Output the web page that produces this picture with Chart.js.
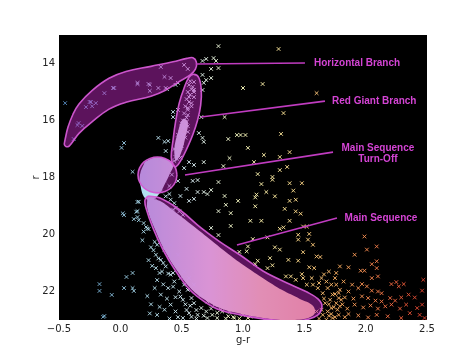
<!DOCTYPE html>
<html><head><meta charset="utf-8">
<script src="https://cdn.jsdelivr.net/npm/chart.js@4"></script>
<style>html,body{margin:0;padding:0;background:#fff;}#wrap{width:474px;height:355px;}</style>
</head><body><div id="wrap"><canvas id="c" width="474" height="355"></canvas></div>
<script>
const xTicks = [-0.5, 0, 0.5, 1, 1.5, 2, 2.5];
const yTicks = [14, 16, 18, 20, 22];

const horizontalBranchStars = [[-0.45,15.39],[0.14,14.72],[-0.05,14.86],[-0.13,15.04],[-0.20,15.39],[-0.24,15.35],[-0.28,15.53],[-0.34,16.09],[-0.31,16.19],[-0.38,16.65],[0.23,14.72],[0.33,14.12],[0.36,14.47],[0.41,14.51],[0.31,14.86],[0.37,14.86],[0.45,14.75],[0.47,14.68],[0.14,14.68],[0.24,14.75],[0.24,14.96],[0.38,14.90],[-0.06,14.86],[-0.25,15.35],[-0.23,15.50],[-0.35,16.16],[0.55,14.19],[0.52,14.05]];
const redGiantStars = [[0.60,14.65],[0.59,14.82],[0.60,14.93],[0.56,15.18],[0.60,15.18],[0.58,15.39],[0.55,15.56],[0.55,15.81],[0.54,16.05],[0.52,16.23],[0.55,16.40],[0.51,16.51],[0.48,16.75],[0.49,16.96],[0.57,14.62],[0.56,14.75],[0.58,14.90],[0.55,15.00],[0.57,15.10],[0.54,15.25],[0.56,15.35],[0.53,15.50],[0.55,15.62],[0.52,15.75],[0.54,15.90],[0.51,16.00],[0.53,16.12],[0.50,16.20],[0.52,16.30],[0.49,16.40],[0.51,16.50],[0.48,16.58],[0.50,16.68],[0.47,16.78],[0.49,16.88],[0.46,16.95],[0.48,17.05],[0.46,17.12],[0.47,17.20],[0.45,17.28],[0.46,17.35],[0.44,17.42],[0.50,16.90],[0.53,16.60],[0.55,16.20],[0.58,15.50],[0.60,15.00],[0.50,16.10],[0.47,16.50],[0.44,17.00],[0.49,17.30]];
const giantFieldStars = [[0.43,15.70],[0.47,15.63],[0.43,15.88],[0.31,16.61],[0.36,16.75],[0.39,16.72],[0.37,17.07],[0.03,16.79],[0.01,16.96],[0.10,17.80],[0.80,13.39],[0.67,13.91],[0.70,13.84],[0.76,13.81],[0.78,13.91],[0.74,14.19],[0.80,14.16],[0.67,14.40],[0.70,14.58],[0.74,14.51],[0.68,14.68],[0.67,14.93],[0.66,15.88],[0.85,15.88],[0.64,16.44],[0.67,16.61],[0.68,16.75],[0.88,16.65],[0.95,16.51],[0.98,16.51],[0.89,17.32],[0.56,17.46],[0.60,17.56],[0.68,17.46],[0.84,17.60],[0.52,17.67],[1.29,13.49],[1.00,14.86],[1.16,14.72],[1.60,15.04],[1.33,15.74],[1.02,16.51],[1.31,16.47],[1.04,16.96],[1.17,17.21],[1.30,17.28],[1.38,17.11],[1.09,17.46],[1.12,17.88],[1.30,17.74],[1.36,17.63],[1.24,17.98]];
const turnoffStars = [[0.38,17.60],[0.42,17.90],[0.36,18.10],[0.40,18.30],[0.32,17.40],[0.47,18.12],[0.59,18.12],[0.63,18.09],[0.80,18.16],[0.54,18.40],[0.63,18.51],[0.68,18.51],[0.74,18.44],[0.49,18.65],[0.56,18.82],[0.60,18.75],[0.71,18.58],[0.85,18.65],[0.96,18.82],[0.80,19.18],[0.90,19.25],[0.86,18.96],[0.74,19.77],[0.80,20.02],[0.90,19.70],[0.97,20.61]];
const blueStars = [[0.14,18.86],[0.03,19.32],[0.14,19.18],[0.11,19.46],[0.14,19.39],[0.19,19.60],[0.21,19.74],[0.23,19.81],[0.10,21.35],[0.05,21.49],[-0.17,21.74],[-0.17,21.98],[-0.07,22.12],[0.03,21.88],[0.10,21.88],[0.11,21.98],[0.22,22.16],[-0.13,22.86],[0.02,19.26],[-0.14,22.89],[0.30,20.36],[0.36,20.53],[0.29,20.71],[0.33,20.89],[0.40,20.71],[0.37,21.12],[0.32,21.35],[0.41,21.41],[0.47,21.06],[0.49,21.53],[0.44,21.65],[0.52,21.76],[0.39,21.88],[0.48,22.00],[0.55,21.94],[0.58,22.23],[0.51,22.29],[0.60,22.41],[0.41,22.46],[0.66,22.58],[0.70,22.70],[0.75,22.82],[0.63,22.82],[0.56,22.76],[0.45,22.70],[0.36,22.64],[0.30,22.82],[0.51,22.93],[0.71,22.93],[0.79,22.93],[0.83,22.70],[0.88,22.87],[0.93,22.93],[0.28,21.88],[0.33,22.11],[0.29,21.18],[0.41,20.36],[0.47,20.71],[0.52,21.30],[0.56,21.53],[0.60,21.76],[0.66,22.11],[0.71,22.35],[0.77,22.46],[0.82,22.64],[0.29,18.55],[0.33,18.49],[0.37,18.66],[0.40,18.58],[0.41,18.78],[0.44,18.90],[0.43,19.13],[0.45,19.07],[0.28,18.72],[0.48,19.19],[0.51,19.31],[0.15,18.85],[0.13,19.20],[0.15,19.50],[0.22,19.79],[0.28,20.26],[0.27,20.55],[0.31,20.84],[0.35,21.00],[0.39,21.37],[0.30,21.60],[0.43,21.83],[0.49,22.18],[0.32,22.54],[0.24,22.77],[0.54,22.65],[0.58,22.89],[0.62,22.95],[0.68,22.85],[0.74,22.60],[0.79,22.75],[0.86,22.95],[0.57,22.50],[0.47,22.90],[0.40,22.95],[0.53,22.45],[0.45,22.20],[0.38,22.25],[0.25,22.45],[0.62,22.65],[0.89,22.72],[0.35,21.75],[0.43,21.35],[0.26,21.10],[0.34,21.30],[0.23,20.90],[0.25,20.45],[0.18,20.20],[0.19,19.90]];
const yellowStars = [[1.15,18.23],[1.24,18.08],[1.38,18.20],[1.48,18.20],[1.11,18.60],[1.10,18.70],[1.19,18.51],[1.26,18.66],[1.41,18.46],[1.38,18.82],[1.43,18.78],[1.10,19.01],[1.34,19.10],[1.43,19.19],[1.47,19.27],[1.06,19.52],[1.15,19.52],[1.38,19.52],[1.33,19.75],[1.30,19.80],[1.49,19.72],[1.52,19.72],[1.45,20.01],[1.54,19.98],[1.45,20.18],[1.53,20.18],[1.20,20.10],[1.08,20.16],[1.57,20.36],[1.26,20.45],[1.30,20.53],[1.04,20.42],[1.03,20.59],[1.49,20.62],[1.60,20.77],[1.63,20.79],[1.22,20.83],[1.37,20.89],[1.45,20.92],[1.12,20.92],[1.10,21.04],[1.24,21.08],[1.20,21.18],[1.54,21.15],[1.58,21.18],[1.35,21.47],[1.39,21.47],[1.48,21.39],[1.49,21.53],[1.56,21.53],[1.43,21.59],[1.52,21.76],[1.57,21.76],[1.00,22.82],[1.04,22.93],[1.06,22.88],[0.92,22.90],[0.97,22.95]];
const redStars = [[1.64,21.53],[1.68,21.65],[1.61,21.88],[1.65,22.06],[1.69,21.88],[1.72,21.76],[1.73,22.11],[1.71,22.29],[1.67,22.41],[1.64,22.64],[1.69,22.70],[1.72,22.58],[1.73,22.93],[1.68,22.99],[1.65,22.82],[1.72,22.79],[1.99,20.07],[2.01,20.53],[2.09,20.42],[1.91,20.71],[1.79,21.12],[1.86,21.15],[1.96,21.27],[1.99,21.27],[2.05,21.04],[2.09,20.94],[2.09,21.18],[2.10,21.47],[2.05,21.53],[1.82,21.65],[1.89,21.76],[1.97,21.74],[2.01,21.82],[1.94,21.88],[1.86,22.00],[1.79,21.94],[2.05,21.97],[2.10,22.00],[2.13,22.06],[2.21,21.74],[2.25,21.67],[2.27,21.82],[2.31,21.74],[2.47,21.59],[2.46,21.97],[1.78,22.23],[1.83,22.21],[1.90,22.25],[1.97,22.17],[2.02,22.23],[2.08,22.32],[2.13,22.35],[2.20,22.23],[2.24,22.32],[2.29,22.21],[2.35,22.11],[2.40,22.21],[1.79,22.52],[1.85,22.60],[1.91,22.46],[1.98,22.56],[2.04,22.49],[2.10,22.60],[2.16,22.52],[2.21,22.46],[2.28,22.60],[2.33,22.46],[2.42,22.58],[2.46,22.46],[1.78,22.82],[1.86,22.79],[1.94,22.84],[2.02,22.91],[2.09,22.82],[2.18,22.87],[2.29,22.93],[2.36,22.76],[2.44,22.82],[2.48,22.93],[1.75,22.09],[1.76,21.76],[1.75,21.53],[1.76,22.41],[1.80,22.29],[1.77,22.64],[1.62,21.70],[1.66,22.25],[1.70,22.45],[1.74,22.55],[1.62,22.95],[1.70,22.85],[1.75,22.90],[1.60,22.70],[1.78,22.05],[1.81,22.45],[1.83,22.90],[1.66,21.40],[1.70,21.30],[1.76,21.35]];

// region outlines (g-r, r)
const regionHorizontalBranch = [[-0.451,16.68],[-0.427,16.24],[-0.386,15.78],[-0.337,15.42],[-0.231,14.95],[-0.092,14.52],[0.046,14.28],[0.250,14.10],[0.429,13.94],[0.543,13.82],[0.592,13.80],[0.620,13.95],[0.612,14.20],[0.570,14.40],[0.470,14.66],[0.364,14.95],[0.250,15.15],[0.046,15.36],[-0.092,15.60],[-0.231,16.05],[-0.337,16.45],[-0.394,16.78],[-0.427,16.92],[-0.455,16.86],[-0.451,16.68]];
const regionRedGiant = [[0.43,17.58],[0.415,17.28],[0.43,16.68],[0.45,16.05],[0.48,15.39],[0.52,14.86],[0.56,14.48],[0.60,14.38],[0.64,14.50],[0.66,14.93],[0.655,15.46],[0.63,15.98],[0.59,16.51],[0.545,16.96],[0.495,17.39],[0.455,17.62],[0.43,17.58]];
const regionTurnOff = [[0.462,17.91],[0.450,18.15],[0.415,18.36],[0.364,18.49],[0.303,18.54],[0.242,18.49],[0.191,18.36],[0.156,18.15],[0.144,17.91],[0.156,17.67],[0.191,17.46],[0.242,17.33],[0.303,17.28],[0.364,17.33],[0.415,17.46],[0.450,17.67],[0.462,17.91]];
const regionMainSequence = [[0.226,18.65],[0.323,18.72],[0.486,19.14],[0.658,19.77],[0.812,20.26],[0.976,20.72],[1.163,21.28],[1.359,21.70],[1.522,22.02],[1.611,22.26],[1.644,22.51],[1.611,22.82],[1.505,23.00],[1.359,23.04],[1.163,22.96],[0.976,22.82],[0.812,22.65],[0.690,22.37],[0.568,21.95],[0.446,21.25],[0.348,20.54],[0.266,19.77],[0.209,19.07],[0.201,18.79],[0.226,18.65]];
// densest parts of the star cloud
const coreRedGiant = [[0.45,17.45],[0.44,17.00],[0.47,16.40],[0.51,15.95],[0.55,16.05],[0.53,16.60],[0.49,17.20],[0.45,17.45]];
const coreTurnOff = [[0.20,17.45],[0.28,17.30],[0.38,17.36],[0.43,17.55],[0.40,17.90],[0.36,18.25],[0.32,18.55],[0.26,18.78],[0.20,18.72],[0.165,18.30],[0.16,17.90],[0.20,17.45]];
const coreMainSequence = [[0.22,18.72],[0.32,18.82],[0.45,19.22],[0.60,19.72],[0.74,20.20],[0.88,20.68],[1.02,21.12],[1.17,21.55],[1.32,21.95],[1.46,22.25],[1.57,22.50],[1.58,22.80],[1.48,22.98],[1.33,23.00],[1.15,22.92],[0.98,22.78],[0.82,22.60],[0.70,22.32],[0.58,21.92],[0.46,21.25],[0.36,20.55],[0.28,19.80],[0.22,19.10],[0.22,18.72]];

const annotations = [
  {text:['Horizontal Branch'], from:[0.617,14.02], to:[1.505,13.98], at:[1.93,13.98]},
  {text:['Red Giant Branch'], from:[0.658,15.88], to:[1.668,15.32], at:[2.07,15.32]},
  {text:['Main Sequence','Turn-Off'], from:[0.527,17.91], to:[1.734,17.11], at:[2.10,17.16]},
  {text:['Main Sequence'], from:[0.951,20.37], to:[1.766,19.42], at:[2.125,19.42]}
];

const RdYlBu_r = [[49,54,149],[69,117,180],[116,173,209],[171,217,233],[224,243,248],[255,255,191],[254,224,144],[253,174,97],[244,109,67],[215,48,39],[165,0,38]];
function starColor(v){
  let t = Math.max(0, Math.min(1, (v + 1) / 4));
  const f = t * 10, i = Math.min(9, Math.floor(f)), u = f - i;
  const a = RdYlBu_r[i], b = RdYlBu_r[i+1];
  const c = a.map((av, k) => Math.round(av + (b[k]-av)*u));
  return `rgba(${c[0]},${c[1]},${c[2]},0.92)`;
}
const toXY = arr => arr.map(p => ({x:p[0], y:p[1]}));
const allStars = [].concat(horizontalBranchStars, redGiantStars, giantFieldStars, turnoffStars, blueStars, yellowStars, redStars);

function coreGradient(ctx){
  const chart = ctx.chart;
  if (!chart.chartArea) return 'rgba(0,0,0,0)';
  const xs = chart.scales.x;
  const g = chart.ctx.createLinearGradient(xs.getPixelForValue(0.2), 0, xs.getPixelForValue(1.6), 0);
  g.addColorStop(0, 'rgb(175,225,240)');
  g.addColorStop(0.38, 'rgb(238,242,228)');
  g.addColorStop(0.68, 'rgb(252,232,168)');
  g.addColorStop(1, 'rgb(252,205,140)');
  return g;
}

const shapeStyle = {type:'line', fill:'shape', backgroundColor:'rgba(195,40,195,0.47)', borderColor:'rgba(212,90,212,0.95)', borderWidth:1.6, pointRadius:0, tension:0.4, order:1, clip:0};
const coreStyle = {type:'line', fill:'shape', backgroundColor:coreGradient, borderColor:'rgba(0,0,0,0)', borderWidth:1, pointRadius:0, tension:0.4, order:4, clip:0};

const datasets = [];
annotations.forEach(a => datasets.push({type:'line', data:[{x:a.from[0],y:a.from[1]},{x:a.to[0],y:a.to[1]}], borderColor:'#c03cc0', borderWidth:1.6, pointRadius:0, fill:false, order:0, clip:0}));
datasets.push(Object.assign({}, shapeStyle, {data:toXY(regionHorizontalBranch)}));
datasets.push(Object.assign({}, shapeStyle, {data:toXY(regionRedGiant)}));
datasets.push(Object.assign({}, shapeStyle, {data:toXY(regionTurnOff)}));
datasets.push(Object.assign({}, shapeStyle, {data:toXY(regionMainSequence)}));
datasets.push({type:'scatter', data:toXY(allStars), pointStyle:'crossRot', pointRadius:2.6, pointBorderWidth:1,
  pointBorderColor: c => c.raw ? starColor(c.raw.x) : '#fff', pointBackgroundColor: c => c.raw ? starColor(c.raw.x) : '#fff', order:3, clip:0});
datasets.push(Object.assign({}, coreStyle, {data:toXY(coreRedGiant)}));
datasets.push(Object.assign({}, coreStyle, {data:toXY(coreTurnOff)}));
datasets.push(Object.assign({}, coreStyle, {data:toXY(coreMainSequence)}));

const bgPlugin = {id:'bg', beforeDraw(chart){
  const {ctx, chartArea:a} = chart;
  ctx.save(); ctx.fillStyle = '#fff'; ctx.fillRect(0,0,chart.width,chart.height);
  ctx.fillStyle = '#000'; ctx.fillRect(a.left, a.top, a.right-a.left, a.bottom-a.top); ctx.restore();
}};
const labelPlugin = {id:'labels', afterDatasetsDraw(chart){
  const {ctx, scales:{x, y}} = chart;
  ctx.save();
  ctx.font = 'bold 10px "Liberation Sans", Arial, sans-serif';
  ctx.fillStyle = '#d444d4'; ctx.textAlign = 'center'; ctx.textBaseline = 'middle';
  annotations.forEach(a => {
    const px = x.getPixelForValue(a.at[0]), py = y.getPixelForValue(a.at[1]);
    a.text.forEach((t, i) => ctx.fillText(t, px, py + (i - (a.text.length-1)/2) * 11.5));
  });
  ctx.restore();
}};

Chart.defaults.font.family = '"DejaVu Sans", sans-serif';
Chart.defaults.font.size = 10;
new Chart(document.getElementById('c'), {
  type: 'scatter',
  data: {datasets},
  options: {
    responsive:false, animation:false, devicePixelRatio:1, events:[],
    layout:{padding:{left:0, top:35, right:47, bottom:0}},
    plugins:{legend:{display:false}, tooltip:{enabled:false}},
    scales:{
      x:{type:'linear', min:-0.5, max:2.5,
        afterBuildTicks: s => { s.ticks = xTicks.map(v => ({value:v})); },
        afterFit: s => { s.height = 35; },
        ticks:{color:'#222', padding:3, autoSkip:false, maxRotation:0,
          callback: v => (v < 0 ? '\u2212' : '') + Math.abs(v).toFixed(1)},
        grid:{display:false, drawTicks:false}, border:{display:false},
        title:{display:true, text:'g-r', color:'#222', padding:{top:0, bottom:9}}},
      y:{type:'linear', reverse:true, min:13, max:23,
        afterBuildTicks: s => { s.ticks = yTicks.map(v => ({value:v})); },
        afterFit: s => { s.width = 59; },
        ticks:{color:'#222', padding:4, autoSkip:false, callback: v => String(v)},
        grid:{display:false, drawTicks:false}, border:{display:false},
        title:{display:true, text:'r', color:'#222', padding:{top:30, bottom:0}}}
    }
  },
  plugins:[bgPlugin, labelPlugin]
});
</script></body></html>
